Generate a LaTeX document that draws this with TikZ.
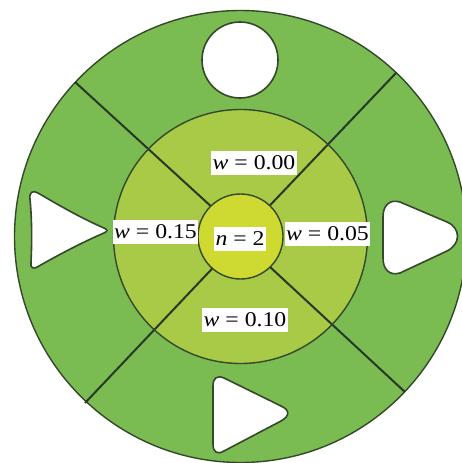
\documentclass[tikz,border=0pt]{standalone}
\usepackage{fontspec}
\setmainfont{Liberation Serif}
\usepackage{graphicx}
\definecolor{outerg}{RGB}{122,188,82}
\definecolor{midg}{RGB}{168,202,70}
\definecolor{innerg}{RGB}{206,217,50}
\definecolor{edge}{RGB}{52,72,42}
\definecolor{divline}{RGB}{40,56,36}
\tikzset{
  ring/.style={draw=edge, line width=1.4pt},
  divider/.style={draw=divline, line width=2pt},
  hole/.style={draw=edge, fill=white, line width=1.6pt, line join=round},
  lab/.style={fill=white, inner xsep=1.5pt, inner ysep=0pt, minimum height=24pt,
    font=\fontsize{21}{21}\selectfont}
}
\newcommand{\wide}[1]{\scalebox{1.13}[1]{#1}}
\begin{document}
\begin{tikzpicture}[x=1pt,y=-1pt]
\useasboundingbox (0,0) rectangle (462,463);
\clip (0,0) rectangle (462,463);
\coordinate (C) at (240.5,236.5);
\coordinate (M) at (240.5,236.5);
% outer disc
\fill[outerg] (C) circle (226pt);
\draw[ring] (C) circle (226pt);
% middle disc
\fill[midg] (M) circle (127pt);
% dividers
\coordinate (o1) at (75,82);   \coordinate (i1) at (226,220);
\coordinate (o2) at (396,73);  \coordinate (i2) at (256,220);
\coordinate (o3) at (85,403);  \coordinate (i3) at (226,254);
\coordinate (o4) at (405,392); \coordinate (i4) at (256,254);
\draw[divider] (o1) -- (i1);
\draw[divider] (o2) -- (i2);
\draw[divider] (o3) -- (i3);
\draw[divider] (o4) -- (i4);
\draw[ring] (M) circle (127pt);
% inner disc
\fill[innerg] (M) circle (42.5pt);
\draw[ring] (M) circle (42.5pt);
% holes
\draw[hole] (240,60) circle (38pt);
% left triangle (slightly concave sides)
\draw[hole] (30,199) .. controls (29,192) and (33,190) .. (38,193)
  .. controls (60,206) and (83,219) .. (104,228)
  .. controls (108,230) and (108,231) .. (104,233)
  .. controls (83,242) and (60,254) .. (39,266)
  .. controls (33,270) and (30,268) .. (31,262)
  .. controls (32,242) and (32,220) .. (30,199) -- cycle;
% right triangle (strongly rounded)
\draw[hole] (383,237) -- (383,217) .. controls (383,205) and (390,199) .. (400,202)
  -- (447,222) .. controls (461,228) and (461,244) .. (447,251)
  -- (400,273) .. controls (390,276) and (383,270) .. (383,258) -- cycle;
% bottom triangle
\draw[hole] (213,415) -- (213,386) .. controls (213,378) and (217,375) .. (224,378)
  -- (281,406) .. controls (290,410) and (290,416) .. (281,421)
  -- (224,451) .. controls (217,455) and (213,452) .. (213,444) -- cycle;
% labels
\node[lab] (l0) at (254,162.5) {\wide{\textit{w} = 0.00}};
\node[lab] (l15) at (155.5,231.5) {\wide{\textit{w} = 0.15}};
\node[lab] (ln) at (240,238.5) {\wide{\textit{n} = 2}};
\node[lab] (l5) at (327.5,233.5) {\wide{\textit{w} = 0.05}};
\node[lab] (l10) at (245,320) {\wide{\textit{w} = 0.10}};
\end{tikzpicture}
\end{document}
